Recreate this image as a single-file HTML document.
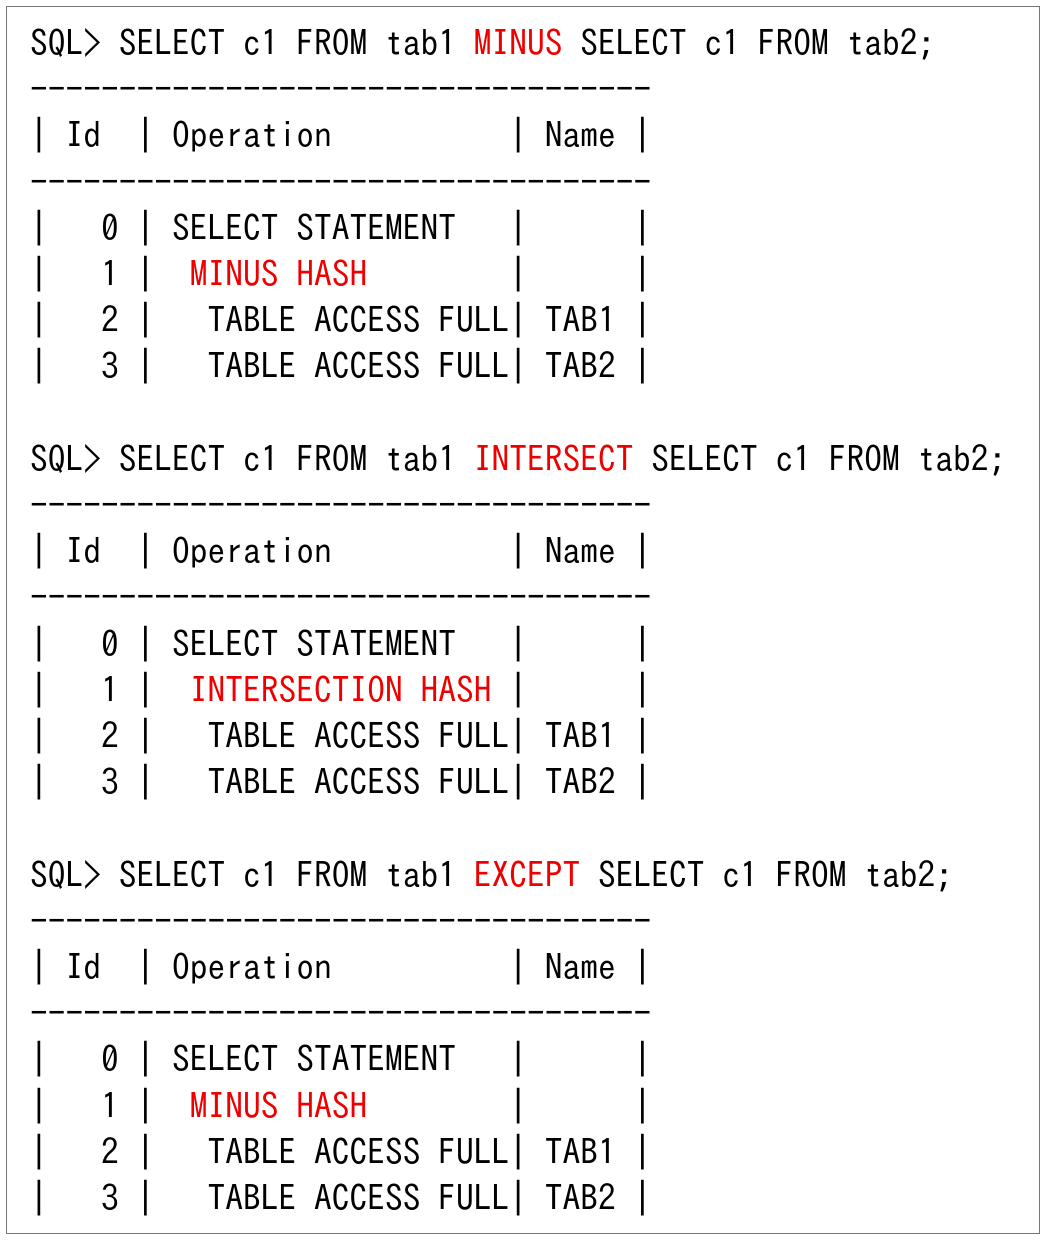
<!DOCTYPE html>
<html><head><meta charset="utf-8"><style>
html,body{margin:0;padding:0;background:#fff;}
body{width:1046px;height:1242px;position:relative;overflow:hidden;}
.box{position:absolute;left:6px;top:6px;width:1032px;height:1226px;border:1.5px solid #777;}
pre{position:absolute;left:30px;top:21px;margin:0;font-family:"IPAGothic","Liberation Mono",monospace;font-size:35.5px;line-height:46.2px;color:#000;white-space:pre;}
.r{color:#e00;}
</style></head><body>
<div class="box"></div>
<pre>SQL&gt; SELECT c1 FROM tab1 <span class="r">MINUS</span> SELECT c1 FROM tab2;
-----------------------------------
| Id  | Operation          | Name |
-----------------------------------
|   0 | SELECT STATEMENT   |      |
|   1 |  <span class="r">MINUS HASH</span>        |      |
|   2 |   TABLE ACCESS FULL| TAB1 |
|   3 |   TABLE ACCESS FULL| TAB2 |

SQL&gt; SELECT c1 FROM tab1 <span class="r">INTERSECT</span> SELECT c1 FROM tab2;
-----------------------------------
| Id  | Operation          | Name |
-----------------------------------
|   0 | SELECT STATEMENT   |      |
|   1 |  <span class="r">INTERSECTION HASH</span> |      |
|   2 |   TABLE ACCESS FULL| TAB1 |
|   3 |   TABLE ACCESS FULL| TAB2 |

SQL&gt; SELECT c1 FROM tab1 <span class="r">EXCEPT</span> SELECT c1 FROM tab2;
-----------------------------------
| Id  | Operation          | Name |
-----------------------------------
|   0 | SELECT STATEMENT   |      |
|   1 |  <span class="r">MINUS HASH</span>        |      |
|   2 |   TABLE ACCESS FULL| TAB1 |
|   3 |   TABLE ACCESS FULL| TAB2 |</pre>
</body></html>
